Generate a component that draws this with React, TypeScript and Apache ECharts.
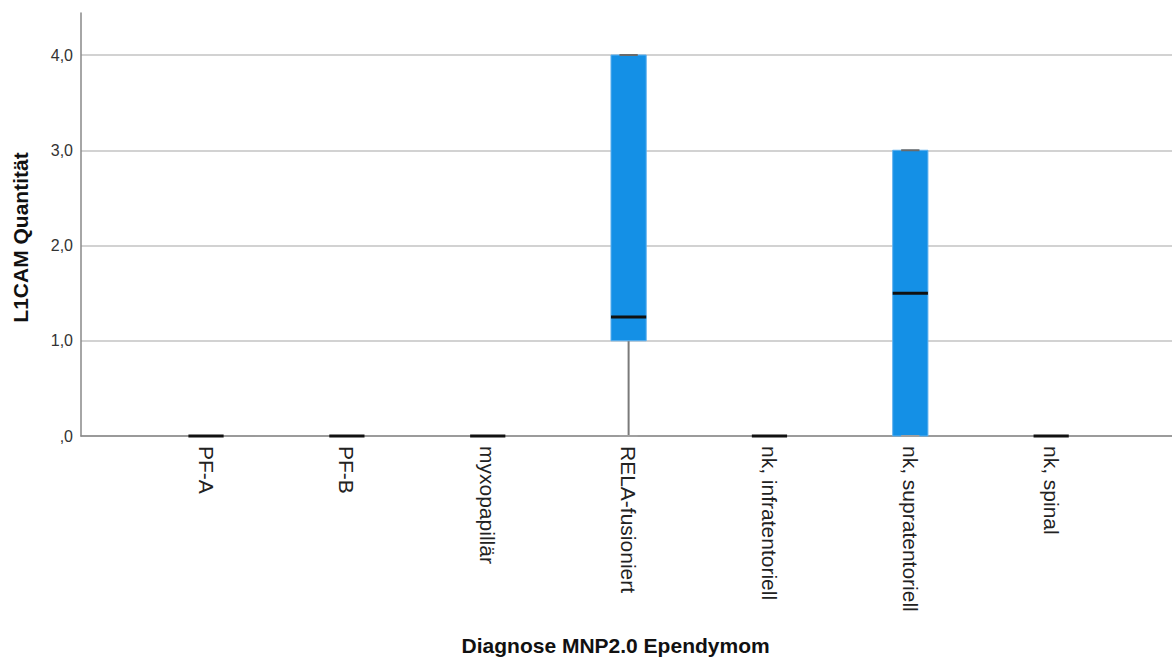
import React, { useEffect, useRef } from "react";
import * as echarts from "echarts";

// Box-plot statistics per diagnosis group
const CATEGORIES = [
  "PF-A",
  "PF-B",
  "myxopapillär",
  "RELA-fusioniert",
  "nk, infratentoriell",
  "nk, supratentoriell",
  "nk, spinal",
];
const MIN_VALUES = [0, 0, 0, 0, 0, 0, 0];
const Q1_VALUES = [0, 0, 0, 1, 0, 0, 0];
const MEDIAN_VALUES = [0, 0, 0, 1.25, 0, 1.5, 0];
const Q3_VALUES = [0, 0, 0, 4, 0, 3, 0];
const MAX_VALUES = [0, 0, 0, 4, 0, 3, 0];

const Y_MIN = 0;
const Y_MAX = 4;
const Y_INTERVAL = 1;
const Y_FRAME_MAX = 4.44;

const FONT = "'Liberation Sans', Arial, Helvetica, sans-serif";

const formatTick = (v: number) => {
  const s = v.toFixed(1).replace(".", ",");
  return s.startsWith("0,") ? s.slice(1) : s;
};

export default function App() {
  const ref = useRef<HTMLDivElement>(null);

  useEffect(() => {
    if (!ref.current) return;
    const chart = echarts.init(ref.current, undefined, { renderer: "svg" });

    const data = CATEGORIES.map((_, i) => [
      i,
      MIN_VALUES[i],
      Q1_VALUES[i],
      MEDIAN_VALUES[i],
      Q3_VALUES[i],
      MAX_VALUES[i],
    ]);

    const renderItem = (_params: any, api: any) => {
      const idx = api.value(0);
      const lo = api.value(1);
      const q1 = api.value(2);
      const med = api.value(3);
      const q3 = api.value(4);
      const hi = api.value(5);
      const [cx, yLo] = api.coord([idx, lo]);
      const yQ1 = api.coord([idx, q1])[1];
      const yMed = api.coord([idx, med])[1];
      const yQ3 = api.coord([idx, q3])[1];
      const yHi = api.coord([idx, hi])[1];
      const band = api.size([1, 0])[0];
      const boxW = band * 0.25;
      const capW = band * 0.13;
      const children: any[] = [];
      if (q1 > lo) {
        children.push({
          type: "line",
          shape: { x1: cx, y1: yQ1, x2: cx, y2: yLo },
          style: { stroke: "#7a7a7a", lineWidth: 2 },
        });
      }
      if (hi > q3) {
        children.push({
          type: "line",
          shape: { x1: cx, y1: yQ3, x2: cx, y2: yHi },
          style: { stroke: "#7a7a7a", lineWidth: 2 },
        });
      }
      if (q3 > q1) {
        children.push({
          type: "rect",
          shape: { x: cx - boxW / 2, y: yQ3, width: boxW, height: yQ1 - yQ3 },
          style: { fill: "#1490E6", stroke: "#5DB0EE", lineWidth: 1 },
        });
      }
      children.push({
        type: "line",
        shape: { x1: cx - capW / 2, y1: yLo, x2: cx + capW / 2, y2: yLo },
        style: { stroke: "#a0a0a0", lineWidth: 2 },
      });
      children.push({
        type: "line",
        shape: { x1: cx - capW / 2, y1: yHi, x2: cx + capW / 2, y2: yHi },
        style: { stroke: "#6a6a6a", lineWidth: 2 },
      });
      children.push({
        type: "line",
        shape: { x1: cx - boxW / 2, y1: yMed, x2: cx + boxW / 2, y2: yMed },
        style: { stroke: "#111111", lineWidth: 3 },
      });
      return { type: "group", children };
    };

    chart.setOption({
      animation: false,
      backgroundColor: "#ffffff",
      textStyle: { fontFamily: FONT },
      grid: [
        { left: 81, right: 0, top: 13, bottom: 222, outerBoundsMode: "none", containLabel: false },
        { left: 81, right: 0, top: 55, bottom: 222, outerBoundsMode: "none", containLabel: false },
        { left: 135.6, right: 50.4, top: 55, bottom: 222, outerBoundsMode: "none", containLabel: false },
      ],
      xAxis: [
        { gridIndex: 0, type: "value", show: false, min: 0, max: 1 },
        {
          gridIndex: 1,
          type: "value",
          min: 0,
          max: 1,
          axisLine: { show: true, lineStyle: { color: "#888888", width: 1.5 } },
          axisTick: { show: false },
          axisLabel: { show: false },
          splitLine: { show: false },
        },
        {
          gridIndex: 2,
          type: "category",
          data: CATEGORIES,
          boundaryGap: true,
          axisLine: { show: false },
          axisTick: { show: false },
          axisLabel: {
            rotate: -90,
            margin: 10,
            fontSize: 21,
            color: "#222222",
            fontFamily: FONT,
            interval: 0,
          },
          name: "Diagnose MNP2.0 Ependymom",
          nameLocation: "middle",
          nameGap: 199,
          nameTextStyle: {
            fontSize: 21,
            fontWeight: "bold",
            color: "#111111",
            fontFamily: FONT,
            padding: [0, 26, 0, 0],
          },
        },
      ],
      yAxis: [
        {
          gridIndex: 0,
          type: "value",
          min: Y_MIN,
          max: Y_FRAME_MAX,
          axisLine: { show: true, lineStyle: { color: "#888888", width: 1.5 } },
          axisTick: { show: false },
          axisLabel: { show: false },
          splitLine: { show: false },
        },
        {
          gridIndex: 1,
          type: "value",
          min: Y_MIN,
          max: Y_MAX,
          interval: Y_INTERVAL,
          axisLine: { show: false },
          axisTick: { show: false },
          axisLabel: {
            formatter: formatTick,
            fontSize: 16,
            color: "#333333",
            margin: 8,
            fontFamily: FONT,
          },
          splitLine: { show: true, lineStyle: { color: "#d2d2d2", width: 2 } },
          name: "L1CAM Quantität",
          nameLocation: "middle",
          nameGap: 50,
          nameTextStyle: {
            fontSize: 21,
            fontWeight: "bold",
            color: "#111111",
            fontFamily: FONT,
            padding: [0, 0, 0, 16],
          },
        },
        { gridIndex: 2, type: "value", min: Y_MIN, max: Y_MAX, show: false },
      ],
      series: [
        {
          type: "custom",
          xAxisIndex: 2,
          yAxisIndex: 2,
          renderItem,
          encode: { x: 0, y: [1, 2, 3, 4, 5] },
          data,
          clip: false,
          z: 5,
        },
      ],
    });

    return () => chart.dispose();
  }, []);

  return (
    <div
      ref={ref}
      style={{ position: "fixed", left: 0, top: 0, width: 1172, height: 658, background: "#fff" }}
    />
  );
}
